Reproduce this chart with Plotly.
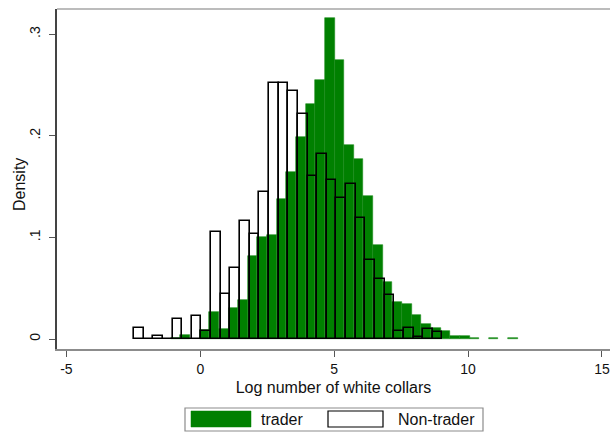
import plotly.graph_objects as go

# ---- data ----
bin_width = 0.36
trader_start = -1.105
nontrader_start = -2.475

trader_density = [0.0012, 0.004, 0, 0.0092, 0.0265, 0.0095, 0.031, 0.038, 0.0817, 0.1007,
                  0.1022, 0.1377, 0.1647, 0.199, 0.2315, 0.255, 0.3156, 0.275, 0.191, 0.177,
                  0.141, 0.093, 0.0558, 0.0367, 0.0344, 0.0236, 0.0145, 0.0105, 0.0079, 0.003,
                  0.003, 0.001, 0, 0.001, 0, 0.001]
nontrader_density = [0.0105, 0, 0.003, 0, 0.0197, 0, 0.023, 0.008, 0.105, 0.044,
                     0.0696, 0.1165, 0.103, 0.145, 0.2517, 0.2517, 0.2445, 0.221, 0.16, 0.182,
                     0.1565, 0.1385, 0.153, 0.119, 0.078, 0.059, 0.043, 0.008, 0.0105, 0.002,
                     0.0095, 0.0066]

x_ticks = [-5, 0, 5, 10, 15]
x_ticklabels = ["-5", "0", "5", "10", "15"]
y_ticks = [0, 0.1, 0.2, 0.3]
y_ticklabels = ["0", ".1", ".2", ".3"]

GREEN = "#008000"
FONT = "Liberation Sans"
TXT = "#111"

W, H = 611, 432
L, R, T, B = 57, 1, 9, 83

trader_x = [trader_start + bin_width * (i + 0.5) for i in range(len(trader_density))]
nontrader_x = [nontrader_start + bin_width * (i + 0.5) for i in range(len(nontrader_density))]

fig = go.Figure()
fig.add_trace(go.Bar(
    x=trader_x, y=[v if v > 0 else None for v in trader_density], width=bin_width,
    marker=dict(color=GREEN, line=dict(color="#1a8c1a", width=0.6)),
    name="trader", showlegend=False))
fig.add_trace(go.Bar(
    x=nontrader_x, y=nontrader_density, width=bin_width,
    marker=dict(color="rgba(0,0,0,0)", line=dict(color="black", width=1.6)),
    name="Non-trader", showlegend=False))

# pixel -> paper helpers for the hand-made legend
pw = W - L - R
ph = H - T - B
def px(x):
    return (x - L) / pw
def py(y):
    return (H - B - y) / ph

shapes = [
    dict(type="line", xref="paper", yref="paper", x0=0, x1=1, y0=1, y1=1,
         line=dict(color="#a6a6a6", width=1.5)),
    dict(type="rect", xref="paper", yref="paper", x0=px(185), x1=px(483), y0=py(431), y1=py(408),
         line=dict(color="#8c8c8c", width=1.2), fillcolor="white"),
    dict(type="rect", xref="paper", yref="paper", x0=px(191), x1=px(251), y0=py(427), y1=py(411),
         line=dict(color=GREEN, width=0.5), fillcolor=GREEN),
    dict(type="rect", xref="paper", yref="paper", x0=px(328), x1=px(383), y0=py(427), y1=py(411),
         line=dict(color="black", width=1.2), fillcolor="white"),
]
annotations = [
    dict(text="trader", xref="paper", yref="paper", x=px(259), y=py(419), xanchor="left",
         yanchor="middle", showarrow=False, font=dict(family=FONT, size=16, color=TXT)),
    dict(text="Non-trader", xref="paper", yref="paper", x=px(396), y=py(419), xanchor="left",
         yanchor="middle", showarrow=False, font=dict(family=FONT, size=16, color=TXT)),
    dict(text="Density", xref="paper", yref="paper", x=px(20), y=py(185), xanchor="center",
         yanchor="middle", textangle=-90, showarrow=False,
         font=dict(family=FONT, size=16, color=TXT)),
]

fig.update_layout(
    width=W, height=H, margin=dict(l=L, r=R, t=T, b=B),
    paper_bgcolor="white", plot_bgcolor="white",
    barmode="overlay", bargap=0,
    font=dict(family=FONT, size=14, color=TXT),
    shapes=shapes, annotations=annotations,
    xaxis=dict(range=[-5.35, 15.3], tickvals=x_ticks, ticktext=x_ticklabels,
               ticks="outside", ticklen=6,
               tickcolor="#555", showgrid=False, zeroline=False, showline=True,
               linecolor="#8c8c8c", linewidth=1.5,
               tickfont=dict(size=14),
               title=dict(text="Log number of white collars", font=dict(size=16), standoff=6)),
    yaxis=dict(range=[-0.0098, 0.3248], tickvals=y_ticks, ticktext=y_ticklabels,
               ticks="outside", ticklen=6, tickcolor="#555", tickangle=-90,
               ticklabelstandoff=3,
               showgrid=False, zeroline=False, showline=True, linecolor="#444", linewidth=2,
               tickfont=dict(size=14)),
)

fig.write_html("out.html")
